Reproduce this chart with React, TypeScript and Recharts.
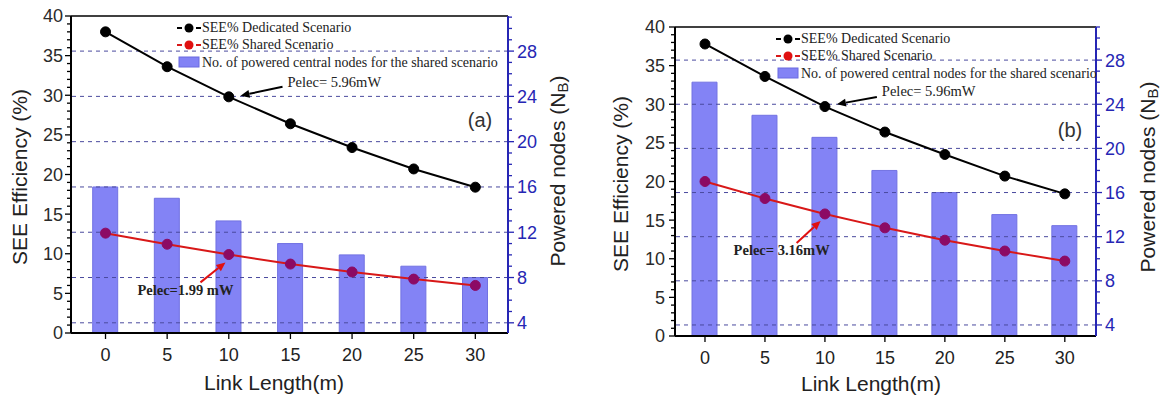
import { ComposedChart, Bar, Line, XAxis, YAxis, Legend, ReferenceLine, Label } from "recharts";

// link length (m)
const linkLength = [0, 5, 10, 15, 20, 25, 30];

// panel (a)
const dedicatedA = [38.0, 33.6, 29.8, 26.4, 23.4, 20.7, 18.4];
const sharedA = [12.6, 11.2, 9.9, 8.7, 7.7, 6.8, 6.0];
const nodesA = [16, 15, 13, 11, 10, 9, 8];

// panel (b)
const dedicatedB = [37.8, 33.6, 29.7, 26.4, 23.5, 20.7, 18.4];
const sharedB = [20.0, 17.8, 15.8, 14.0, 12.4, 11.0, 9.7];
const nodesB = [26, 23, 21, 18, 16, 14, 13];

const xTicks = [0, 5, 10, 15, 20, 25, 30];
const leftMajor = [0, 5, 10, 15, 20, 25, 30, 35, 40];
const rightMajor = [4, 8, 12, 16, 20, 24, 28];

const legendNames = [
  "SEE% Dedicated Scenario",
  "SEE% Shared Scenario",
  "No. of powered central nodes for the shared scenario",
];

const BAR = "#8383f5";
const RED = "#d81818";
const PURPLE = "#8c0a64";
const NAVY = "#2626b4";
const SANS = "'Liberation Sans', Arial, sans-serif";
const SERIF = "'Liberation Serif', 'Times New Roman', serif";

const leftMinor = Array.from({ length: 41 }, (_, i) => i);
const rightMinor = Array.from({ length: 28 }, (_, i) => i + 4);

const build = (ded: number[], sh: number[], nd: number[]) =>
  linkLength.map((x, i) => ({ x, dedicated: ded[i], shared: sh[i], nodes: nd[i] }));

const LeftTick = (props: any) => {
  const { x, y, payload } = props;
  const v = payload.value;
  const major = leftMajor.includes(v);
  const ax = x + props.gap;
  return (
    <g>
      <line x1={ax} x2={ax - (major ? 6 : 4)} y1={y} y2={y} stroke="#000" strokeWidth={1.3} />
      {major && (
        <text x={x} y={y} dy="0.36em" textAnchor="end" fontSize={18} fontFamily={SANS} fill="#2a2a2a">
          {v}
        </text>
      )}
    </g>
  );
};

const RightTick = (props: any) => {
  const { x, y, payload } = props;
  const v = payload.value;
  const major = rightMajor.includes(v);
  const ax = x - 9;
  return (
    <g>
      <line x1={ax} x2={ax + (major ? 6 : 4)} y1={y} y2={y} stroke={NAVY} strokeWidth={1.3} />
      {major && (
        <text x={x} y={y} dy="0.36em" textAnchor="start" fontSize={18} fontFamily={SANS} fill={NAVY}>
          {v}
        </text>
      )}
    </g>
  );
};

const arrowShape = (color: string, text: string, dx: number, dy: number, anchor: string, bold: boolean) =>
  (p: any) => {
    const { x1, y1, x2, y2 } = p;
    const a = Math.atan2(y2 - y1, x2 - x1);
    const L = 9;
    const W = 4;
    const bx = x2 - L * Math.cos(a);
    const by = y2 - L * Math.sin(a);
    const pts = `${x2},${y2} ${bx - W * Math.sin(a)},${by + W * Math.cos(a)} ${bx + W * Math.sin(a)},${by - W * Math.cos(a)}`;
    return (
      <g>
        <line x1={x1} y1={y1} x2={bx} y2={by} stroke={color} strokeWidth={2} />
        <polygon points={pts} fill={color} />
        <text
          x={x1 + dx}
          y={y1 + dy}
          textAnchor={anchor as any}
          fontSize={14.5}
          fontWeight={bold ? "bold" : "normal"}
          fontFamily={SERIF}
          fill="#222"
        >
          {text}
        </text>
      </g>
    );
  };

const LegendBox = () => (
  <div style={{ fontFamily: SERIF, fontSize: 14, color: "#222", lineHeight: "17.3px" }}>
    {legendNames.map((name, i) => (
      <div key={name} style={{ display: "flex", alignItems: "center", height: 17.3, whiteSpace: "nowrap" }}>
        <svg width={25} height={12} style={{ flex: "none" }}>
          {i < 2 ? (
            <g>
              <line x1={0} x2={24} y1={6} y2={6} stroke={i === 0 ? "#000" : RED} strokeWidth={2} strokeDasharray="5 14" />
              <circle cx={12} cy={6} r={4.5} fill={i === 0 ? "#000" : "#e01010"} />
            </g>
          ) : (
            <rect x={2} y={1} width={20} height={10} fill={BAR} stroke="#6b6be0" />
          )}
        </svg>
        <span>{name}</span>
      </div>
    ))}
  </div>
);

interface Arrow {
  tail: { x: number; y: number };
  head: { x: number; y: number };
  color: string;
  text: string;
  dx: number;
  dy: number;
  anchor: string;
  bold: boolean;
}

interface PanelProps {
  data: any[];
  width: number;
  margin: { top: number; right: number; left: number; bottom: number };
  xDomain: [number, number];
  rightDomain: [number, number];
  leftGap: number;
  legendPos: { left: number; top: number };
  tag: string;
  tagPos: { x: number; y: number };
  titles: { leftX: number; leftY: number; rightX: number; rightY: number; bottomX: number; bottomY: number };
  arrows: Arrow[];
}

function Panel(p: PanelProps) {
  return (
    <ComposedChart width={p.width} height={397} data={p.data} margin={p.margin}>
      <XAxis
        dataKey="x"
        type="number"
        domain={p.xDomain}
        ticks={xTicks}
        interval={0}
        height={40}
        axisLine={{ stroke: "#000", strokeWidth: 2 }}
        tickLine={{ stroke: "#000", strokeWidth: 1.3 }}
        tickSize={6}
        tickMargin={9}
        tick={{ fontSize: 18, fontFamily: SANS, fill: "#222" }}
      >
        <Label
          content={() => (
            <text x={p.titles.bottomX} y={p.titles.bottomY} textAnchor="middle" fontSize={21} fontFamily={SANS} fill="#222">
              Link Length(m)
            </text>
          )}
        />
      </XAxis>
      <YAxis
        yAxisId="left"
        domain={[0, 40]}
        ticks={leftMinor}
        interval={0}
        width={50}
        axisLine={{ stroke: "#000", strokeWidth: 2 }}
        tickLine={false}
        tickSize={5}
        tickMargin={p.leftGap - 5}
        tick={<LeftTick gap={p.leftGap} />}
      >
        <Label
          content={() => (
            <text
              transform={`translate(${p.titles.leftX},${p.titles.leftY}) rotate(-90)`}
              textAnchor="middle"
              dominantBaseline="central"
              fontSize={21}
              fontFamily={SANS}
              fill="#222"
            >
              SEE Efficiency (%)
            </text>
          )}
        />
      </YAxis>
      <YAxis
        yAxisId="right"
        orientation="right"
        domain={p.rightDomain}
        allowDataOverflow
        ticks={rightMinor}
        interval={0}
        width={50}
        axisLine={{ stroke: NAVY, strokeWidth: 2 }}
        tickLine={false}
        tickSize={5}
        tickMargin={4}
        tick={<RightTick />}
      >
        <Label
          content={() => (
            <text
              transform={`translate(${p.titles.rightX},${p.titles.rightY}) rotate(-90)`}
              textAnchor="middle"
              dominantBaseline="central"
              fontSize={21}
              fontFamily={SANS}
              fill="#222"
            >
              Powered nodes (N
              <tspan fontSize={15} dy={5}>B</tspan>
              <tspan dy={-5}>)</tspan>
            </text>
          )}
        />
      </YAxis>
      <Bar
        yAxisId="right"
        dataKey="nodes"
        barSize={25}
        fill={BAR}
        stroke="#7272e2"
        strokeWidth={1}
        isAnimationActive={false}
      />
      {rightMajor.map((v) => (
        <ReferenceLine key={v} yAxisId="right" y={v} stroke="#4a4a9e" strokeDasharray="4 4" strokeWidth={1} />
      ))}
      <ReferenceLine yAxisId="left" y={40} stroke="#000" strokeWidth={1.5} />
      <Line
        yAxisId="left"
        dataKey="dedicated"
        stroke="#000"
        strokeWidth={2}
        dot={{ r: 5, fill: "#000", stroke: "#000", strokeWidth: 1 }}
        isAnimationActive={false}
      />
      <Line
        yAxisId="left"
        dataKey="shared"
        stroke={RED}
        strokeWidth={2}
        dot={{ r: 5, fill: PURPLE, stroke: PURPLE, strokeWidth: 1 }}
        isAnimationActive={false}
      />
      {p.arrows.map((a, i) => (
        <ReferenceLine
          key={`arrow-${i}`}
          yAxisId="left"
          segment={[a.tail, a.head]}
          shape={arrowShape(a.color, a.text, a.dx, a.dy, a.anchor, a.bold)}
        />
      ))}
      <Legend
        layout="vertical"
        align="center"
        verticalAlign="middle"
        content={() => <LegendBox />}
        wrapperStyle={{ left: p.legendPos.left, top: p.legendPos.top, width: "auto" }}
      />
      <text x={p.tagPos.x} y={p.tagPos.y} textAnchor="middle" fontSize={20} fontFamily={SANS} fill="#333">
        {p.tag}
      </text>
    </ComposedChart>
  );
}

export default function App() {
  return (
    <div style={{ position: "absolute", left: 0, top: 0, width: 1163, height: 397, background: "#fff" }}>
      <div style={{ position: "absolute", left: 0, top: 0 }}>
        <Panel
          data={build(dedicatedA, sharedA, nodesA)}
          width={580}
          margin={{ top: 16, right: 22, left: 21, bottom: 24 }}
          xDomain={[-2.8, 32.65]}
          rightDomain={[3.1, 31.1]}
          leftGap={8}
          legendPos={{ left: 177, top: 19 }}
          tag="(a)"
          tagPos={{ x: 480, y: 127 }}
          titles={{ leftX: 19, leftY: 177, rightX: 557, rightY: 171, bottomX: 274, bottomY: 390 }}
          arrows={[
            { tail: { x: 14.36, y: 31.07 }, head: { x: 10.95, y: 29.94 }, color: "#000", text: "Pelec= 5.96mW", dx: 5, dy: 0, anchor: "start", bold: false },
            { tail: { x: 7.7, y: 6.39 }, head: { x: 9.73, y: 8.9 }, color: "#e01010", text: "Pelec=1.99 mW", dx: -15, dy: 13, anchor: "middle", bold: true },
          ]}
        />
      </div>
      <div style={{ position: "absolute", left: 580, top: 0 }}>
        <Panel
          data={build(dedicatedB, sharedB, nodesB)}
          width={583}
          margin={{ top: 27, right: 17, left: 45, bottom: 21 }}
          xDomain={[-2.5, 32.6]}
          rightDomain={[3.0, 31.0]}
          leftGap={10}
          legendPos={{ left: 196, top: 30 }}
          tag="(b)"
          tagPos={{ x: 490, y: 137 }}
          titles={{ leftX: 40, leftY: 184, rightX: 567, rightY: 177, bottomX: 291, bottomY: 391 }}
          arrows={[
            { tail: { x: 14.33, y: 30.94 }, head: { x: 11.0, y: 30.0 }, color: "#000", text: "Pelec= 5.96mW", dx: 5, dy: -1, anchor: "start", bold: false },
            { tail: { x: 7.64, y: 12.04 }, head: { x: 9.64, y: 14.89 }, color: "#e01010", text: "Pelec= 3.16mW", dx: -15, dy: 12, anchor: "middle", bold: true },
          ]}
        />
      </div>
    </div>
  );
}
